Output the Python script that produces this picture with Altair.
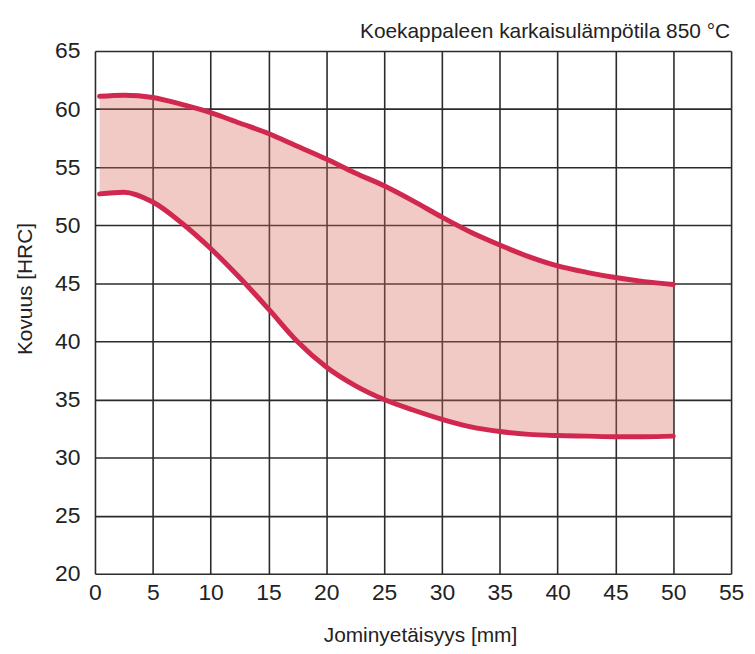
import altair as alt
import pandas as pd

# Data
distance_mm = [0.4, 2.5, 5, 7.5, 10, 12.5, 15, 17.5, 20, 22.5, 25, 27.5, 30, 32.5, 35, 37.5, 40, 42.5, 45, 47.5, 50]
upper_hrc = [61.1, 61.2, 61.0, 60.4, 59.7, 58.8, 57.9, 56.8, 55.7, 54.5, 53.4, 52.1, 50.7, 49.4, 48.3, 47.3, 46.5, 45.95, 45.5, 45.15, 44.9]
lower_hrc = [52.7, 52.85, 52.0, 50.2, 48.0, 45.5, 42.8, 40.0, 37.8, 36.2, 35.0, 34.1, 33.3, 32.65, 32.25, 32.0, 31.9, 31.85, 31.8, 31.8, 31.85]

x_ticks = list(range(0, 56, 5))
y_ticks = list(range(20, 66, 5))

title_text = "Koekappaleen karkaisulämpötila 850 °C"
x_title = "Jominyetäisyys [mm]"
y_title = "Kovuus [HRC]"

FONT = "Liberation Sans"
LINE_COLOR = "#d1284f"

df = pd.DataFrame({"x": distance_mm, "hi": upper_hrc, "lo": lower_hrc})
long_df = pd.concat([
    pd.DataFrame({"x": distance_mm, "y": upper_hrc, "s": "upper"}),
    pd.DataFrame({"x": distance_mm, "y": lower_hrc, "s": "lower"}),
])

x_scale = alt.Scale(domain=[0, 55], nice=False, zero=False)
y_scale = alt.Scale(domain=[20, 65], nice=False, zero=False)

x_axis = alt.Axis(values=x_ticks, title=x_title, grid=True, ticks=False, domain=False,
                  labelFlush=False,
                  labelFont=FONT, labelFontSize=23, labelColor="#222", labelPadding=8,
                  titleFont=FONT, titleFontSize=21, titleFontWeight="normal", titleColor="#222",
                  titleX=327, titleY=68, titleBaseline="alphabetic", titleAnchor="start", titleAlign="center")
y_axis = alt.Axis(values=y_ticks, title=y_title, grid=True, ticks=False, domain=False,
                  labelFlush=False,
                  labelFont=FONT, labelFontSize=23, labelColor="#222", labelPadding=15,
                  titleFont=FONT, titleFontSize=21, titleFontWeight="normal", titleColor="#222",
                  titleAngle=270, titleX=-70, titleY=239, titleBaseline="middle", titleAlign="center",
                  titleAnchor="start")

band = alt.Chart(df).mark_area(color="#d9675a", opacity=0.35, interpolate="monotone").encode(
    x=alt.X("x:Q", scale=x_scale, axis=x_axis),
    y=alt.Y("lo:Q", scale=y_scale, axis=y_axis),
    y2="hi:Q",
)

lines = alt.Chart(long_df).mark_line(color=LINE_COLOR, strokeWidth=5, interpolate="monotone",
                                     strokeCap="round").encode(
    x=alt.X("x:Q", scale=x_scale),
    y=alt.Y("y:Q", scale=y_scale),
    detail="s:N",
)

title = alt.Chart(alt.Data(values=[{"t": title_text}])).mark_text(
    font=FONT, fontSize=21, color="#222", align="right", baseline="alphabetic"
).encode(text="t:N", x=alt.value(639), y=alt.value(-13))

chart = alt.layer(band, lines, title).properties(
    width=640, height=526,
    autosize=alt.AutoSizeParams(type="none"),
    padding={"left": 87.5, "top": 41.3, "right": 16, "bottom": 76},
).configure_view(stroke=None).configure_axis(
    gridColor="#2b2b2b", gridWidth=1.6, gridOpacity=1
)

chart.save("out.html", embed_options={"renderer": "svg", "actions": False})
